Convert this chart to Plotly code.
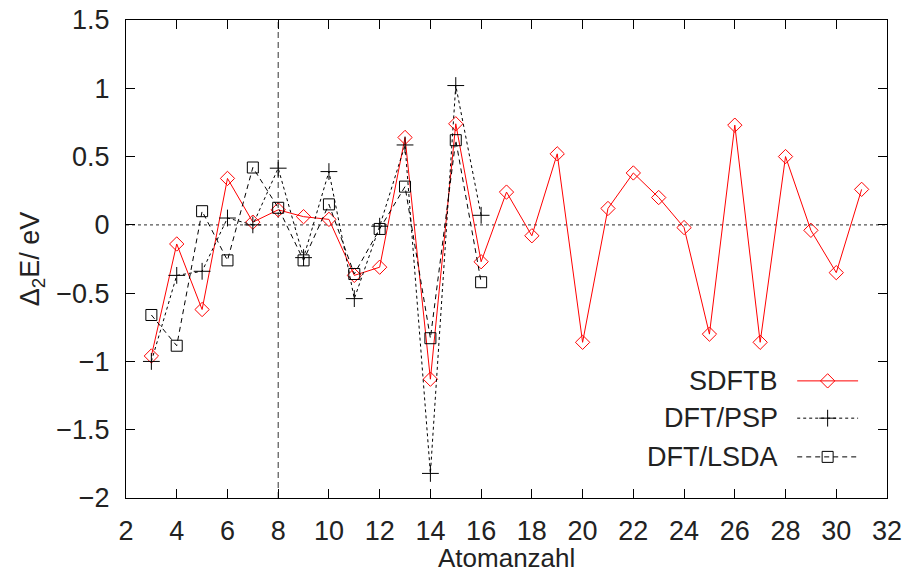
import plotly.graph_objects as go

# ---------------- data ----------------
atoms_sdftb = list(range(3, 32))
e_sdftb = [-0.96, -0.14, -0.62, 0.34, 0.02, 0.11, 0.06, 0.04, -0.37, -0.31,
           0.64, -1.13, 0.74, -0.27, 0.24, -0.08, 0.52, -0.86, 0.12, 0.38,
           0.20, -0.02, -0.80, 0.73, -0.86, 0.50, -0.04, -0.35, 0.26]

atoms_dft = list(range(3, 17))
e_psp = [-1.00, -0.37, -0.34, 0.05, 0.00, 0.415, -0.24, 0.39, -0.54, -0.01,
         0.585, -1.82, 1.02, 0.07]
e_lsda = [-0.66, -0.885, 0.10, -0.26, 0.42, 0.125, -0.26, 0.15, -0.36, -0.03,
          0.28, -0.83, 0.62, -0.42]

x_ticks = list(range(2, 33, 2))
y_ticks = [-2, -1.5, -1, -0.5, 0, 0.5, 1, 1.5]
x_range = [2, 32]
y_range = [-2, 1.5]
ref_x = 8
ref_y = 0

names = ["SDFTB", "DFT/PSP", "DFT/LSDA"]
x_title = "Atomanzahl"
y_title = "Δ<sub>2</sub>E/ eV"

# ---------------- styling ----------------
FONT = "Liberation Sans, Arial, Helvetica, sans-serif"
FS = 27
red = "#ff0000"
blk = "#000000"

styles = [
    dict(color=red, dash="solid", symbol="diamond-open", size=11),
    dict(color=blk, dash="dot", symbol="cross-thin-open", size=12),
    dict(color=blk, dash="5px,4px", symbol="square-open", size=11),
]
series = [(atoms_sdftb, e_sdftb), (atoms_dft, e_psp), (atoms_dft, e_lsda)]

fig = go.Figure()

for (xs, ys), st, nm in zip(series, styles, names):
    fig.add_trace(go.Scatter(
        x=xs, y=ys, mode="lines+markers", name=nm, showlegend=False,
        line=dict(color=st["color"], width=1, dash=st["dash"]),
        marker=dict(symbol=st["symbol"], size=st["size"], color=st["color"],
                    line=dict(width=1, color=st["color"])),
        cliponaxis=False,
    ))

# reference lines
fig.add_shape(type="line", xref="x", yref="y", x0=x_range[0], x1=x_range[1],
              y0=ref_y, y1=ref_y, line=dict(color="#555555", width=1.2, dash="dot"),
              layer="below")
fig.add_shape(type="line", xref="x", yref="y", x0=ref_x, x1=ref_x,
              y0=y_range[0], y1=y_range[1], line=dict(color="#333333", width=1, dash="6px,4px"),
              layer="below")

# ---------------- custom gnuplot-style key ----------------
key_rows_y = [0.245, 0.167, 0.086]   # in overlay-axis units (0..1 over plot area)
key_line = [0.882, 0.962]
key_mark = 0.922
key_text_x = 0.859
for (st, nm, ky) in zip(styles, names, key_rows_y):
    fig.add_trace(go.Scatter(
        x=key_line, y=[ky, ky], mode="lines", xaxis="x2", yaxis="y2",
        showlegend=False, hoverinfo="skip",
        line=dict(color=st["color"], width=1, dash=st["dash"]),
    ))
    fig.add_trace(go.Scatter(
        x=[key_mark], y=[ky], mode="markers", xaxis="x2", yaxis="y2",
        showlegend=False, hoverinfo="skip",
        marker=dict(symbol=st["symbol"], size=st["size"], color=st["color"],
                    line=dict(width=1, color=st["color"])),
    ))
    fig.add_annotation(x=key_text_x, y=ky, xref="x2", yref="y2", text=nm,
                       showarrow=False, xanchor="right", yanchor="middle",
                       font=dict(family=FONT, size=FS, color="#222222"))

# x-axis title as annotation (fine positioning)
fig.add_annotation(x=0.5, y=0, xref="paper", yref="paper", text=x_title,
                   showarrow=False, xanchor="center", yanchor="top", yshift=-44,
                   borderpad=0,
                   font=dict(family=FONT, size=26, color="#222222"))

axis_common = dict(
    showline=True, linecolor=blk, linewidth=1.2, mirror="ticks",
    ticks="inside", ticklen=9, tickwidth=1, tickcolor=blk,
    showgrid=False, zeroline=False, automargin=False,
    tickfont=dict(family=FONT, size=FS, color="#222222"),
)

fig.update_layout(
    width=904, height=572,
    margin=dict(l=126, r=17, t=20, b=74),
    plot_bgcolor="white", paper_bgcolor="white",
    font=dict(family=FONT, size=FS, color="#222222"),
    xaxis=dict(range=x_range, tickvals=x_ticks, ticklabelstandoff=8,
               **axis_common),
    yaxis=dict(range=y_range, tickvals=y_ticks, ticklabelstandoff=10,
               title=dict(text=y_title, font=dict(family=FONT, size=FS), standoff=8),
               **axis_common),
    xaxis2=dict(range=[0, 1], overlaying="x", visible=False, fixedrange=True),
    yaxis2=dict(range=[0, 1], overlaying="y", visible=False, fixedrange=True),
    showlegend=False,
)

fig.write_html("out.html")
